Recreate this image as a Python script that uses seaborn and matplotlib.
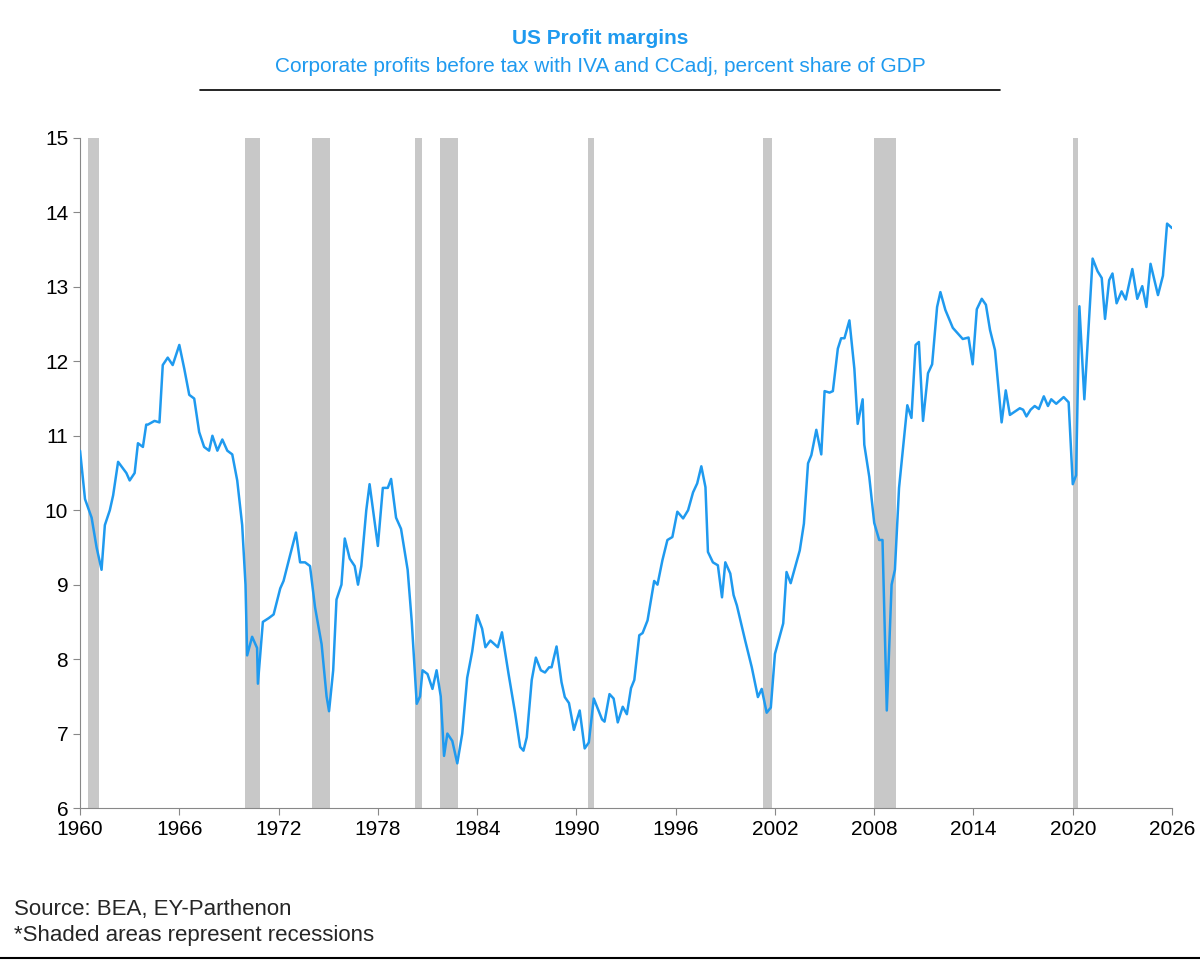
import pandas as pd
import numpy as np
import matplotlib
matplotlib.use('Agg')
import matplotlib.pyplot as plt
import seaborn as sns

# Profit margin readings (year, percent of GDP)
years = [1960.0, 1960.3, 1960.7, 1961.0, 1961.3, 1961.5, 1961.8, 1962.0, 1962.3, 1962.8,
         1963.0, 1963.3, 1963.5, 1963.8, 1964.0, 1964.1, 1964.5, 1964.8, 1965.0, 1965.3,
         1965.6, 1966.0, 1966.3, 1966.6, 1966.9, 1967.2, 1967.5, 1967.8, 1968.0, 1968.3,
         1968.6, 1968.9, 1969.2, 1969.5, 1969.8, 1970.0, 1970.1, 1970.4, 1970.7, 1970.75,
         1971.05, 1971.4, 1971.7, 1972.1, 1972.3, 1972.7, 1973.05, 1973.3, 1973.6, 1973.9,
         1974.2, 1974.6, 1974.9, 1975.05, 1975.3, 1975.5, 1975.8, 1976.0, 1976.3, 1976.6,
         1976.8, 1977.0, 1977.3, 1977.5, 1978.0, 1978.3, 1978.6, 1978.8, 1979.1, 1979.4,
         1979.8, 1980.05, 1980.35, 1980.55, 1980.7, 1981.0, 1981.3, 1981.55, 1981.8, 1982.0,
         1982.2, 1982.5, 1982.8, 1983.1, 1983.4, 1983.7, 1984.0, 1984.3, 1984.5, 1984.8,
         1985.25, 1985.5, 1985.9, 1986.3, 1986.6, 1986.8, 1987.0, 1987.3, 1987.55, 1987.85,
         1988.1, 1988.35, 1988.5, 1988.8, 1989.1, 1989.3, 1989.55, 1989.85, 1990.2, 1990.5,
         1990.75, 1991.05, 1991.55, 1991.7, 1992.0, 1992.25, 1992.5, 1992.8, 1993.05, 1993.3,
         1993.5, 1993.8, 1994.0, 1994.3, 1994.7, 1994.9, 1995.2, 1995.5, 1995.8, 1996.1,
         1996.45, 1996.75, 1997.05, 1997.3, 1997.55, 1997.8, 1997.95, 1998.25, 1998.55, 1998.8,
         1999.0, 1999.3, 1999.5, 1999.7, 2000.2, 2000.6, 2000.97, 2001.2, 2001.5, 2001.75,
         2002.0, 2002.5, 2002.7, 2002.95, 2003.5, 2003.75, 2004.0, 2004.2, 2004.5, 2004.8,
         2005.0, 2005.3, 2005.5, 2005.8, 2006.0, 2006.2, 2006.5, 2006.8, 2007.0, 2007.3,
         2007.4, 2007.7, 2008.0, 2008.3, 2008.5, 2008.76, 2009.05, 2009.25, 2009.5, 2010.0,
         2010.25, 2010.5, 2010.7, 2010.95, 2011.25, 2011.5, 2011.8, 2012.0, 2012.3, 2012.75,
         2013.35, 2013.7, 2013.95, 2014.2, 2014.5, 2014.75, 2015.0, 2015.3, 2015.7, 2015.95,
         2016.2, 2016.8, 2017.0, 2017.2, 2017.45, 2017.7, 2017.95, 2018.25, 2018.5, 2018.7,
         2019.0, 2019.45, 2019.75, 2020.0, 2020.2, 2020.4, 2020.7, 2021.2, 2021.5, 2021.75,
         2021.95, 2022.2, 2022.4, 2022.65, 2022.95, 2023.2, 2023.6, 2023.9, 2024.2, 2024.45,
         2024.7, 2025.15, 2025.45, 2025.7, 2026.0]
margins = [10.8, 10.15, 9.9, 9.5, 9.2, 9.8, 10.0, 10.2, 10.65, 10.5,
           10.4, 10.5, 10.9, 10.85, 11.15, 11.15, 11.2, 11.18, 11.95, 12.05,
           11.95, 12.22, 11.9, 11.55, 11.5, 11.05, 10.85, 10.8, 11.0, 10.8,
           10.95, 10.8, 10.75, 10.4, 9.8, 9.0, 8.05, 8.3, 8.15, 7.67,
           8.5, 8.55, 8.6, 8.95, 9.05, 9.4, 9.7, 9.3, 9.3, 9.25,
           8.7, 8.2, 7.5, 7.3, 7.85, 8.8, 9.0, 9.62, 9.35, 9.25,
           9.0, 9.25, 10.0, 10.35, 9.52, 10.3, 10.3, 10.42, 9.9, 9.75,
           9.2, 8.5, 7.4, 7.5, 7.85, 7.8, 7.6, 7.85, 7.5, 6.7,
           7.0, 6.9, 6.6, 7.0, 7.75, 8.1, 8.59, 8.41, 8.16, 8.25,
           8.16, 8.36, 7.8, 7.27, 6.82, 6.77, 6.95, 7.72, 8.02, 7.85,
           7.82, 7.89, 7.89, 8.17, 7.69, 7.49, 7.41, 7.05, 7.31, 6.8,
           6.88, 7.47, 7.19, 7.16, 7.53, 7.47, 7.15, 7.36, 7.26, 7.61,
           7.72, 8.32, 8.35, 8.52, 9.05, 9.0, 9.33, 9.6, 9.64, 9.98,
           9.89, 10.0, 10.24, 10.36, 10.59, 10.31, 9.44, 9.3, 9.26, 8.83,
           9.3, 9.15, 8.86, 8.72, 8.25, 7.89, 7.49, 7.6, 7.28, 7.35,
           8.07, 8.48, 9.17, 9.02, 9.46, 9.82, 10.63, 10.74, 11.08, 10.75,
           11.6, 11.58, 11.6, 12.17, 12.31, 12.31, 12.55, 11.9, 11.16, 11.49,
           10.88, 10.45, 9.83, 9.6, 9.6, 7.31, 9.0, 9.2, 10.3, 11.41,
           11.24, 12.22, 12.26, 11.2, 11.84, 11.96, 12.73, 12.93, 12.69, 12.45,
           12.3, 12.32, 11.96, 12.7, 12.84, 12.76, 12.42, 12.15, 11.18, 11.61,
           11.28, 11.37, 11.35, 11.26, 11.35, 11.4, 11.36, 11.53, 11.4, 11.49,
           11.43, 11.52, 11.45, 10.35, 10.47, 12.74, 11.49, 13.38, 13.21, 13.12,
           12.57, 13.09, 13.18, 12.78, 12.94, 12.83, 13.24, 12.84, 13.01, 12.73,
           13.31, 12.89, 13.15, 13.85, 13.79]

# Recession periods (start, end)
rec_start = [1960.5, 1970.0, 1974.0, 1980.25, 1981.75, 1990.7, 2001.25, 2008.0, 2020.0]
rec_end = [1961.15, 1970.9, 1975.1, 1980.65, 1982.85, 1991.05, 2001.8, 2009.3, 2020.3]

blue = '#1F9AEF'
df = pd.DataFrame({'year': years, 'margin': margins})

sns.set_style('white')
plt.rcParams['font.family'] = ['Liberation Sans', 'DejaVu Sans']

fig = plt.figure(figsize=(12, 9.61), dpi=100)
ax = fig.add_axes([0.0667, 0.1592, 0.91, 0.6972])

for s, e in zip(rec_start, rec_end):
    ax.axvspan(s, e, color='#C8C8C8', lw=0, zorder=0)

sns.lineplot(data=df, x='year', y='margin', ax=ax, color=blue, lw=1.8, zorder=3)

ax.set_xlim(1960, 2026)
ax.set_ylim(6, 15)
ax.set_xticks(np.arange(1960, 2027, 6))
ax.set_yticks(np.arange(6, 16, 1))
ax.set_xlabel('')
ax.set_ylabel('')
ax.tick_params(axis='both', labelsize=15, length=5, color='#888888', direction='out',
               bottom=True, left=True, labelcolor='black')
for side in ['top', 'right']:
    ax.spines[side].set_visible(False)
for side in ['left', 'bottom']:
    ax.spines[side].set_color('#888888')

fig.text(0.5, 1 - 38/961, 'US Profit margins', ha='center', va='center',
         fontsize=15, fontweight='bold', color=blue)
fig.text(0.5, 1 - 66/961, 'Corporate profits before tax with IVA and CCadj, percent share of GDP',
         ha='center', va='center', fontsize=15, color=blue)
fig.add_artist(plt.Line2D([200/1200, 1000/1200], [1 - 90/961] * 2, color='black', lw=1.2))
fig.text(14/1200, 1 - 910/961, 'Source: BEA, EY-Parthenon', ha='left', va='center', fontsize=16)
fig.text(14/1200, 1 - 936/961, '*Shaded areas represent recessions', ha='left', va='center',
         fontsize=16)
fig.add_artist(plt.Line2D([0, 1], [1 - 958/961] * 2, color='black', lw=1.5))

plt.savefig('out.png', dpi=100)
